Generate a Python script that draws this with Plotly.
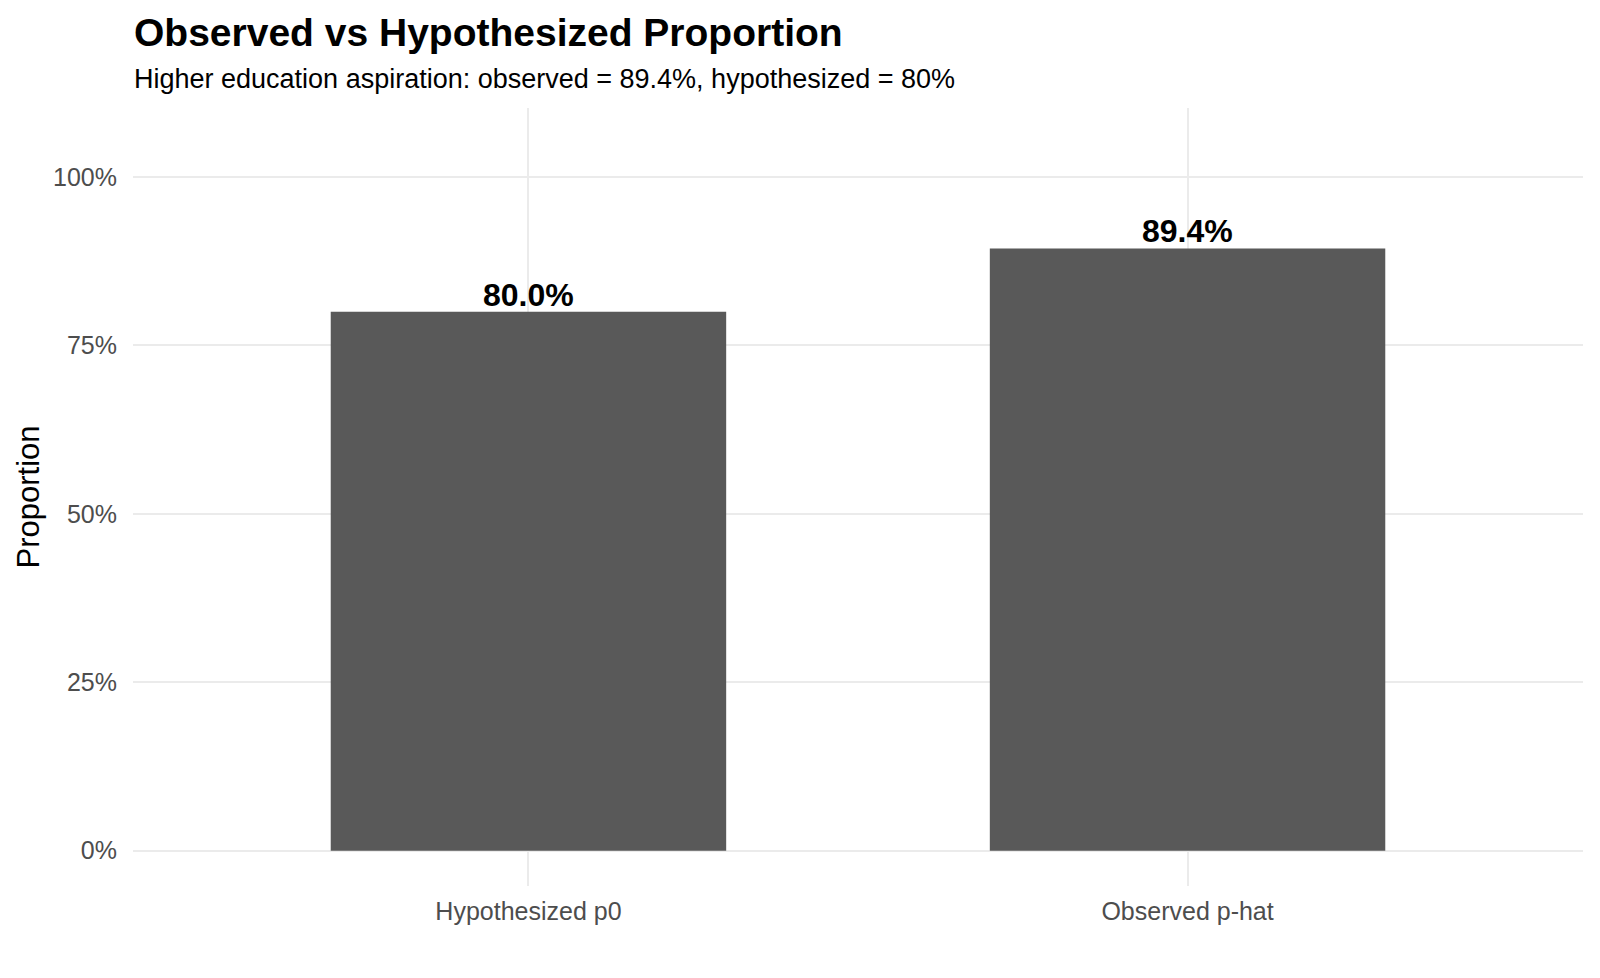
import plotly.graph_objects as go

categories = ["Hypothesized p0", "Observed p-hat"]
values = [0.80, 0.894]
labels = ["80.0%", "89.4%"]
y_ticks = [0, 0.25, 0.5, 0.75, 1.0]
y_tick_text = ["0%", "25%", "50%", "75%", "100%"]

title_text = "Observed vs Hypothesized Proportion"
subtitle_text = "Higher education aspiration: observed = 89.4%, hypothesized = 80%"

FONT = "Liberation Sans, Arial, Helvetica, sans-serif"

fig = go.Figure()
fig.add_trace(go.Bar(
    x=categories, y=values, width=0.6,
    marker=dict(color="#595959", line=dict(width=0)),
    hoverinfo="skip",
))

for c, v, t in zip(categories, values, labels):
    fig.add_annotation(x=c, y=v, text="<b>%s</b>" % t, showarrow=False,
                       xanchor="center", yanchor="bottom", yshift=-3,
                       font=dict(family=FONT, size=32, color="black"))

fig.add_annotation(xref="paper", yref="paper", x=0, y=1.0975, xanchor="left", yanchor="middle",
                   xshift=-1,
                   text="<b>%s</b>" % title_text, showarrow=False,
                   font=dict(family=FONT, size=39, color="black"))
fig.add_annotation(xref="paper", yref="paper", x=0, y=1.0375, xanchor="left", yanchor="middle",
                   xshift=-1,
                   text=subtitle_text, showarrow=False,
                   font=dict(family=FONT, size=27, color="black"))

fig.update_layout(
    width=1600, height=978,
    margin=dict(l=133, r=17, t=108, b=92),
    paper_bgcolor="white", plot_bgcolor="white",
    showlegend=False,
    font=dict(family=FONT),
)
fig.update_xaxes(
    range=[-0.6, 1.6], showgrid=True, gridcolor="#ebebeb", gridwidth=2,
    zeroline=False, showline=False,
    ticks="outside", ticklen=3, tickcolor="rgba(0,0,0,0)",
    tickfont=dict(family=FONT, size=25, color="#4d4d4d"),
)
fig.update_yaxes(
    range=[-0.0525, 1.1025], tickvals=y_ticks, ticktext=y_tick_text,
    showgrid=True, gridcolor="#ebebeb", gridwidth=2,
    zeroline=False, showline=False,
    ticks="outside", ticklen=10, tickcolor="rgba(0,0,0,0)",
    tickfont=dict(family=FONT, size=25, color="#4d4d4d"),
    title=dict(text="Proportion", font=dict(family=FONT, size=31, color="black"), standoff=4),
)

fig.write_html("out.html")
